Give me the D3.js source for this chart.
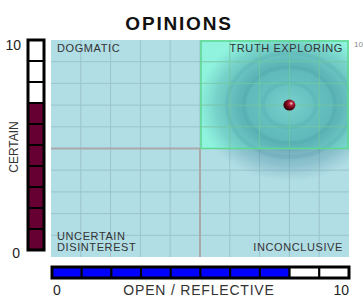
<!DOCTYPE html>
<html>
<head>
<meta charset="utf-8">
<script src="https://cdn.jsdelivr.net/npm/d3@7"></script>
<style>
  body { margin: 0; background: #fff; }
  svg { font-family: Arial, "Liberation Sans", sans-serif; }
</style>
</head>
<body>
<div id="chart"></div>
<script>
const title = 'OPINIONS';
const xLabel = 'OPEN / REFLECTIVE';
const yLabel = 'CERTAIN';
const quadrants = [
  { name: ['DOGMATIC'], qx: 0, qy: 1 },
  { name: ['TRUTH EXPLORING'], qx: 1, qy: 1 },
  { name: ['UNCERTAIN', 'DISINTEREST'], qx: 0, qy: 0 },
  { name: ['INCONCLUSIVE'], qx: 1, qy: 0 }
];
const openValue = 8;
const certainValue = 7;
const steps = d3.range(10);
const tickLabels = ['0', '10'];

const W = 363, H = 306;
const svg = d3.select('#chart').append('svg').attr('width', W).attr('height', H);

const x = d3.scaleLinear().domain([0, 10]).range([51, 349]);
const y = d3.scaleLinear().domain([0, 10]).range([257, 40]);

const defs = svg.append('defs');
const grad = defs.append('radialGradient').attr('id', 'glow');
[[0, 'rgba(90,165,180,0.45)'], [0.3, 'rgba(60,140,160,0.5)'], [0.55, 'rgba(45,120,145,0.5)'],
 [0.8, 'rgba(60,135,155,0.3)'], [1, 'rgba(80,150,170,0)']]
  .forEach(([o, c]) => grad.append('stop').attr('offset', o).attr('stop-color', c));
defs.append('clipPath').attr('id', 'plotClip').append('rect')
  .attr('x', x(0)).attr('y', y(10)).attr('width', x(10) - x(0)).attr('height', y(0) - y(10));

// title
svg.append('text').attr('x', 179).attr('y', 30).attr('text-anchor', 'middle')
  .attr('font-size', 19).attr('font-weight', 'bold').attr('letter-spacing', 1.8).attr('fill', '#111').text(title);

// plot background
const plot = svg.append('g').attr('clip-path', 'url(#plotClip)');
plot.append('rect').attr('x', x(0)).attr('y', y(10)).attr('width', x(10) - x(0)).attr('height', y(0) - y(10))
  .attr('fill', '#b1dde5');
plot.append('rect').attr('x', x(5)).attr('y', y(10)).attr('width', x(10) - x(5)).attr('height', y(5) - y(10))
  .attr('fill', '#8ff3de');

// grid
const gridVals = d3.range(1, 10);
plot.selectAll('.vg').data(gridVals).join('line')
  .attr('x1', d => x(d)).attr('x2', d => x(d)).attr('y1', y(0)).attr('y2', y(10))
  .attr('stroke', '#9cc3cc').attr('stroke-width', 1);
plot.selectAll('.hg').data(gridVals).join('line')
  .attr('y1', d => y(d)).attr('y2', d => y(d)).attr('x1', x(0)).attr('x2', x(10))
  .attr('stroke', '#9cc3cc').attr('stroke-width', 1);

// glow around the point
const cx = x(openValue), cy = y(certainValue);
plot.append('ellipse').attr('cx', cx).attr('cy', cy).attr('rx', 92).attr('ry', 76)
  .attr('fill', 'url(#glow)');
[22, 38, 52].forEach(r => {
  plot.append('ellipse').attr('cx', cx).attr('cy', cy).attr('rx', r * 1.2).attr('ry', r)
    .attr('fill', 'none').attr('stroke', 'rgba(30,100,125,0.08)').attr('stroke-width', 4);
});

// green grid in the top right quadrant
const qGrid = d3.range(6, 10);
plot.selectAll('.qv').data(qGrid).join('line')
  .attr('x1', d => x(d)).attr('x2', d => x(d)).attr('y1', y(5)).attr('y2', y(10))
  .attr('stroke', '#6fdca0').attr('stroke-opacity', 0.7);
plot.selectAll('.qh').data(qGrid).join('line')
  .attr('y1', d => y(d)).attr('y2', d => y(d)).attr('x1', x(5)).attr('x2', x(10))
  .attr('stroke', '#6fdca0').attr('stroke-opacity', 0.7);
plot.append('rect').attr('x', x(5) + 1).attr('y', y(10) + 1).attr('width', x(10) - x(5) - 2).attr('height', y(5) - y(10) - 1)
  .attr('fill', 'none').attr('stroke', '#5fd890').attr('stroke-width', 1.5);

// middle lines
plot.append('line').attr('x1', x(5)).attr('x2', x(5)).attr('y1', y(0)).attr('y2', y(5))
  .attr('stroke', '#a9a9a9').attr('stroke-width', 2);
plot.append('line').attr('x1', x(0)).attr('x2', x(5)).attr('y1', y(5)).attr('y2', y(5))
  .attr('stroke', '#a9a9a9').attr('stroke-width', 2);

// quadrant labels
quadrants.forEach(q => {
  const right = q.qx === 1;
  const tx = right ? x(10) - 6 : x(0) + 6;
  const lines = q.name;
  const baseY = q.qy === 1 ? y(10) + 12 : y(0) - 6 - (lines.length - 1) * 11;
  const t = svg.append('text').attr('text-anchor', right ? 'end' : 'start')
    .attr('font-size', 11).attr('letter-spacing', 0.6).attr('fill', '#333');
  lines.forEach((l, i) => t.append('tspan').attr('x', tx).attr('y', baseY + i * 11).text(l));
});

// point
const ball = defs.append('radialGradient').attr('id', 'ball').attr('cx', '0.65').attr('cy', '0.35').attr('r', '0.7');
[[0, '#f2d4d4'], [0.25, '#b0203a'], [0.7, '#5a0010'], [1, '#2a0008']]
  .forEach(([o, c]) => ball.append('stop').attr('offset', o).attr('stop-color', c));
svg.append('ellipse').attr('cx', cx).attr('cy', cy).attr('rx', 6).attr('ry', 5.5).attr('fill', 'url(#ball)');

// left meter (certain)
const yb = d3.scaleLinear().domain([0, 10]).range([250, 40]);
const leftBar = svg.append('g');
leftBar.selectAll('rect').data(steps).join('rect')
  .attr('x', 28).attr('width', 16)
  .attr('y', d => yb(d + 1)).attr('height', d => yb(d) - yb(d + 1))
  .attr('fill', d => d < certainValue ? '#660033' : '#fff')
  .attr('stroke', '#000').attr('stroke-width', 2);
leftBar.append('rect').attr('x', 28).attr('y', yb(10)).attr('width', 16).attr('height', yb(0) - yb(10))
  .attr('fill', 'none').attr('stroke', '#000').attr('stroke-width', 3);
svg.append('text').attr('x', 21).attr('y', 50).attr('text-anchor', 'end').attr('font-size', 14).attr('fill', '#222').text(tickLabels[1]);
svg.append('text').attr('x', 20).attr('y', 258).attr('text-anchor', 'end').attr('font-size', 14).attr('fill', '#222').text(tickLabels[0]);
svg.append('text').attr('transform', 'translate(18,147) rotate(-90)').attr('text-anchor', 'middle')
  .attr('font-size', 12).attr('fill', '#333').text(yLabel);

// bottom meter (open)
const xb = d3.scaleLinear().domain([0, 10]).range([52, 349]);
const botBar = svg.append('g');
botBar.selectAll('rect').data(steps).join('rect')
  .attr('y', 267).attr('height', 11)
  .attr('x', d => xb(d)).attr('width', d => xb(d + 1) - xb(d))
  .attr('fill', d => d < openValue ? '#0000ff' : '#fff')
  .attr('stroke', '#000').attr('stroke-width', 2);
botBar.append('rect').attr('x', xb(0)).attr('y', 267).attr('width', xb(10) - xb(0)).attr('height', 11)
  .attr('fill', 'none').attr('stroke', '#000').attr('stroke-width', 3);
svg.append('text').attr('x', 53).attr('y', 295).attr('font-size', 14).attr('fill', '#222').text(tickLabels[0]);
svg.append('text').attr('x', 349).attr('y', 295).attr('text-anchor', 'end').attr('font-size', 14).attr('fill', '#222').text(tickLabels[1]);
svg.append('text').attr('x', 199).attr('y', 295).attr('text-anchor', 'middle').attr('font-size', 14)
  .attr('letter-spacing', 0.8).attr('fill', '#333').text(xLabel);

// small label at the far right edge
svg.append('text').attr('x', 354).attr('y', 47).attr('font-size', 8).attr('fill', '#888').text(tickLabels[1]);
</script>
</body>
</html>
